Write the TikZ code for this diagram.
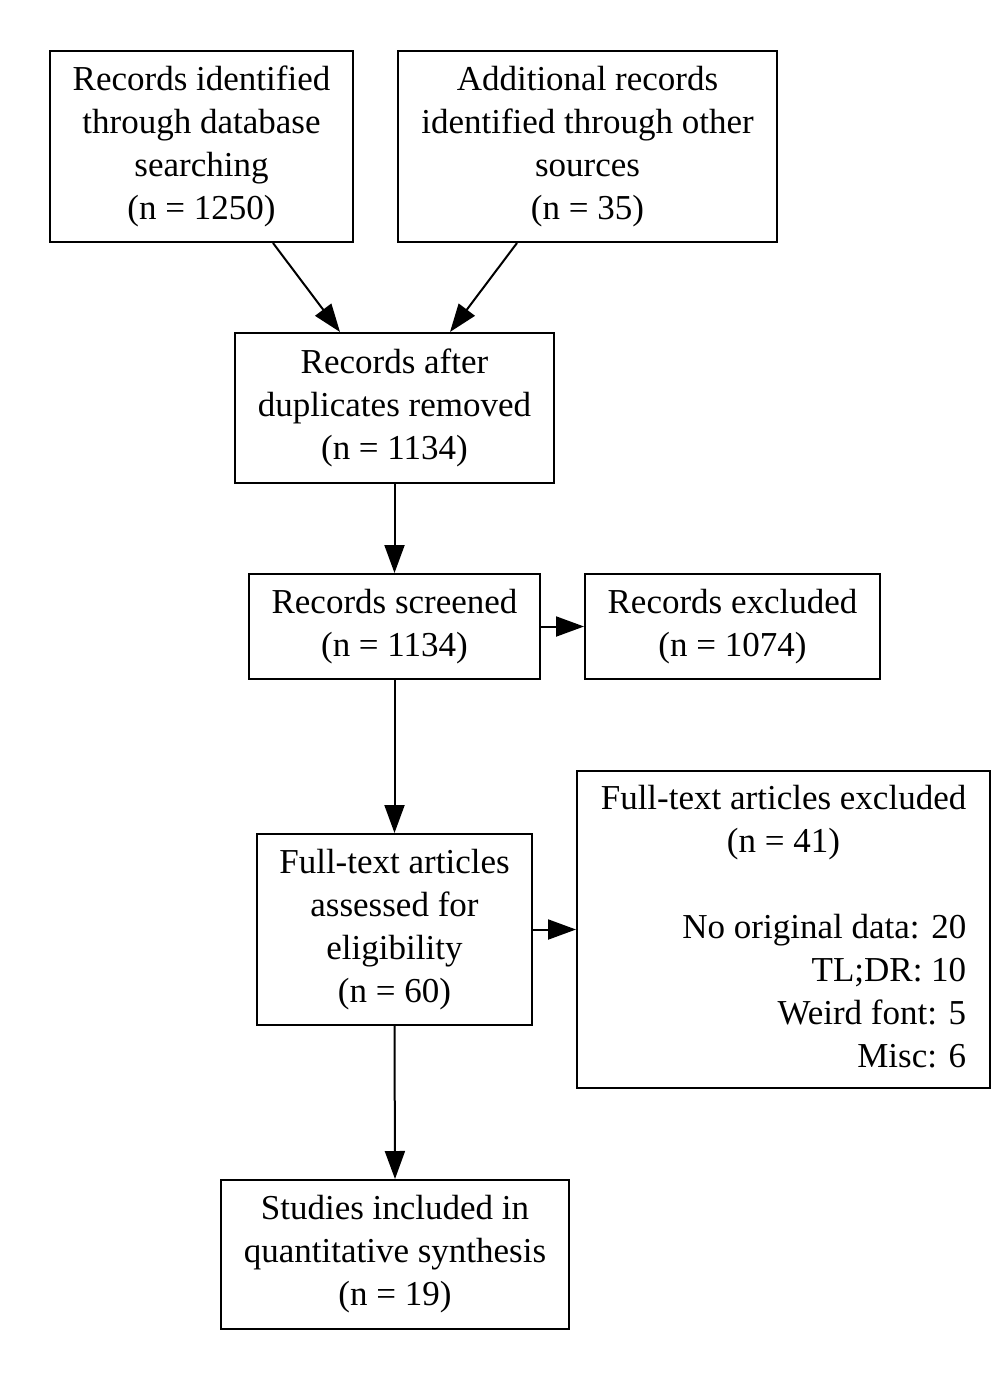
\documentclass[tikz,border=0pt]{standalone}
\usepackage{fontspec}
\setmainfont{Liberation Serif}
\usetikzlibrary{arrows.meta}
\begin{document}
\begin{tikzpicture}[x=1pt,y=-1pt,
  box/.style={draw,line width=2pt,inner sep=0pt,align=center,font=\fontsize{35pt}{43pt}\selectfont},
  arr/.style={line width=2pt,-{Triangle[length=28pt,width=20pt]}}]
\useasboundingbox (0,0) rectangle (1000,1380);
\node[box,minimum width=303pt,minimum height=191pt] (b1) at (201.5,146.5) {Records identified\\through database\\searching\\(n = 1250)};
\node[box,minimum width=379pt,minimum height=191pt] (b2) at (587.5,146.5) {Additional records\\identified through other\\sources\\(n = 35)};
\node[box,minimum width=319pt,minimum height=150pt] (b3) at (394.5,408) {Records after\\duplicates removed\\(n = 1134)};
\node[box,minimum width=291pt,minimum height=105pt] (b4) at (394.5,626.5) {Records screened\\(n = 1134)};
\node[box,minimum width=295pt,minimum height=105pt] (b5) at (732.5,626.5) {Records excluded\\(n = 1074)};
\node[box,minimum width=275pt,minimum height=191pt] (b6) at (394.5,929.5) {Full-text articles\\assessed for\\eligibility\\(n = 60)};
\node[box,minimum width=413pt,minimum height=317pt] (b7) at (783.5,929.5) {\fontsize{35pt}{43pt}\selectfont\renewcommand{\arraystretch}{1}\begin{tabular}{@{}r@{}}\multicolumn{1}{@{}c@{}}{Full-text articles excluded}\\\multicolumn{1}{@{}c@{}}{(n = 41)}\\ \\No original data: 20\\TL;DR: 10\\Weird font: 5\\Misc: 6\end{tabular}};
\node[box,minimum width=348pt,minimum height=149pt] (b8) at (395,1254.5) {Studies included in\\quantitative synthesis\\(n = 19)};
\draw[arr] ([xshift=71.5pt]b1.south) -- ([xshift=-54.5pt]b3.north);
\draw[arr] ([xshift=-70.5pt]b2.south) -- ([xshift=55.5pt]b3.north);
\draw[arr] (b3.south) -- (b4.north);
\draw[arr] (b4.east) -- (b5.west);
\draw[arr] (b4.south) -- (b6.north);
\draw[arr] (b6.east) -- (b7.west);
\draw[arr] (b6.south) -- (b8.north);
\end{tikzpicture}
\end{document}
